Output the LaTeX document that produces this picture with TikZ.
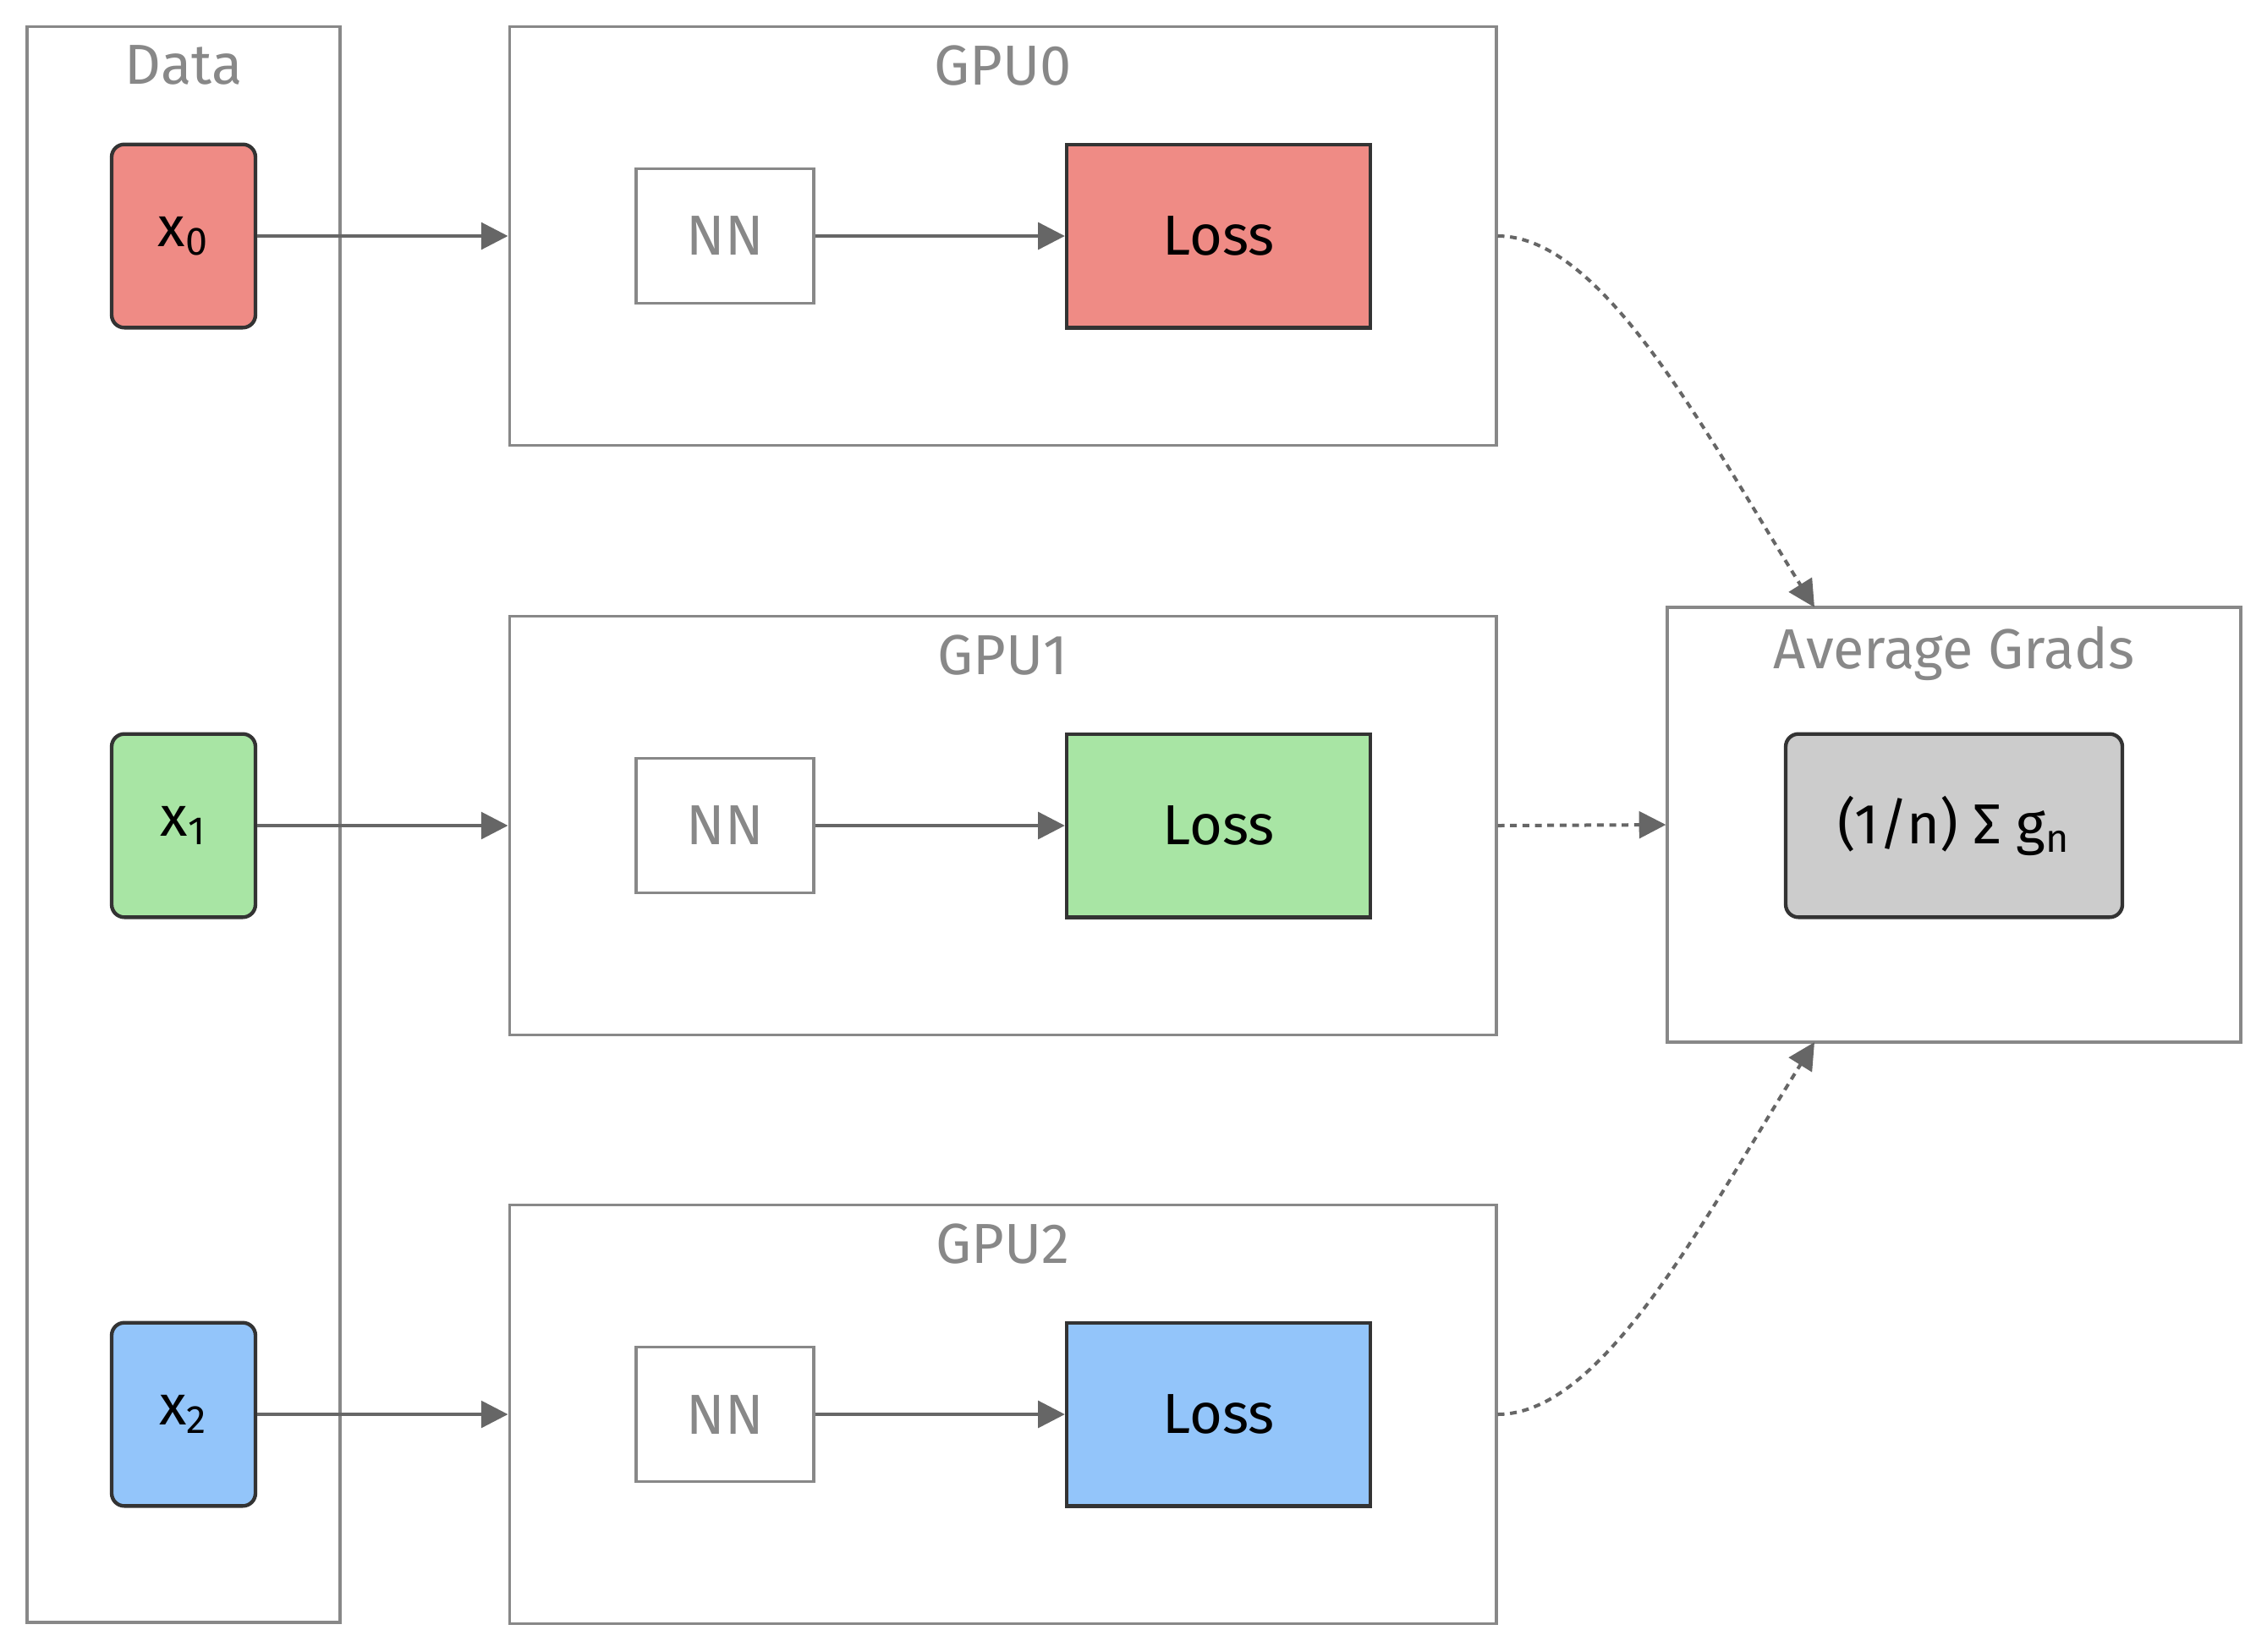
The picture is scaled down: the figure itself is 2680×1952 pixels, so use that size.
\documentclass[tikz,border=0pt]{standalone}
\usepackage{fontspec}
\setmainfont{Fira Sans}
\usepackage{tikz}
\definecolor{reddish}{RGB}{239, 139, 133}
\definecolor{greenish}{RGB}{168, 229, 164}
\definecolor{bluish}{RGB}{147, 197, 250}
\definecolor{greyish}{RGB}{204, 204, 204}
\definecolor{edgeish}{RGB}{51, 51, 51}
\definecolor{frameish}{RGB}{136, 136, 136}
\definecolor{arrowish}{RGB}{102, 102, 102}
\usetikzlibrary{arrows.meta,positioning}
\tikzset{
  treenode/.style = {align=center, inner sep=0pt, text centered,
    font=\fontsize{20}{24}\selectfont},
  sg_box/.style = {rectangle, draw=frameish, line width=1pt,
    inner sep=0pt},% sous-graphe, cadre gris
  sg_title/.style = {treenode, frameish},% titre du sous-graphe
  dat_n/.style = {treenode, rectangle, draw=edgeish, line width=1.3pt,
    rounded corners=4.5pt, minimum width=51pt, minimum height=65pt},% donnee, coins ronds
  nn_n/.style = {treenode, rectangle, frameish, draw=frameish, line width=1pt,
    minimum width=63pt, minimum height=47.7pt},% reseau, noeud blanc
  loss_n/.style = {treenode, rectangle, draw=edgeish, line width=1.3pt,
    minimum width=107.7pt, minimum height=65pt},% perte, noeud colore
  avg_n/.style = {dat_n, fill=greyish, minimum width=119.4pt},% moyenne
}

\begin{document}
\begin{tikzpicture}[x=0.3pt, y=-0.3pt,
  >={Triangle[length=9.5pt, width=9.5pt]},
  flow/.style={->, draw=arrowish, line width=1.2pt},
  sync/.style={flow, dash pattern=on 2.4pt off 2pt},
]
\useasboundingbox (0,0) rectangle (2680,1952);

\node [sg_box, minimum width=111pt, minimum height=566pt] (data) at (217,974.5) {};
\node [sg_title, below=7pt of data.north] (data_t) {Data};

\foreach \i/\y/\c in {0/279/reddish, 1/976/greenish, 2/1672/bluish} {
  \node [sg_box, minimum width=350pt, minimum height=148.5pt] (gpu\i) at (1185.5,\y) {};
  \node [sg_title, below=7pt of gpu\i.north] (gpu\i_t) {GPU\i};
  \node [dat_n, fill=\c] (x\i) at (217,\y) {x\textsubscript{\i}};
  \node [nn_n] (nn\i) at (857,\y) {NN};
  \node [loss_n, fill=\c] (loss\i) at (1440.5,\y) {Loss};
  \draw [flow] (x\i) -- (gpu\i.west);
  \draw [flow] (nn\i) -- (loss\i);
}

\node [sg_box, minimum width=203.4pt, minimum height=154.2pt] (avg) at (2310,975) {};
\node [sg_title, below=7pt of avg.north] (avg_t) {Average Grads};
\node [avg_n] (sum) at (2310,976) {(1/n) Σ g\textsubscript{n}};

\coordinate (avg_in0) at (2145,718);
\coordinate (avg_in2) at (2145,1232);
\draw [sync] (gpu0.east) to [out=0, in=122, out looseness=0.55, in looseness=1.1] (avg_in0);
\draw [sync] (gpu1.east) -- (avg.west);
\draw [sync] (gpu2.east) to [out=0, in=238, out looseness=0.55, in looseness=1.1] (avg_in2);
\end{tikzpicture}
\end{document}
